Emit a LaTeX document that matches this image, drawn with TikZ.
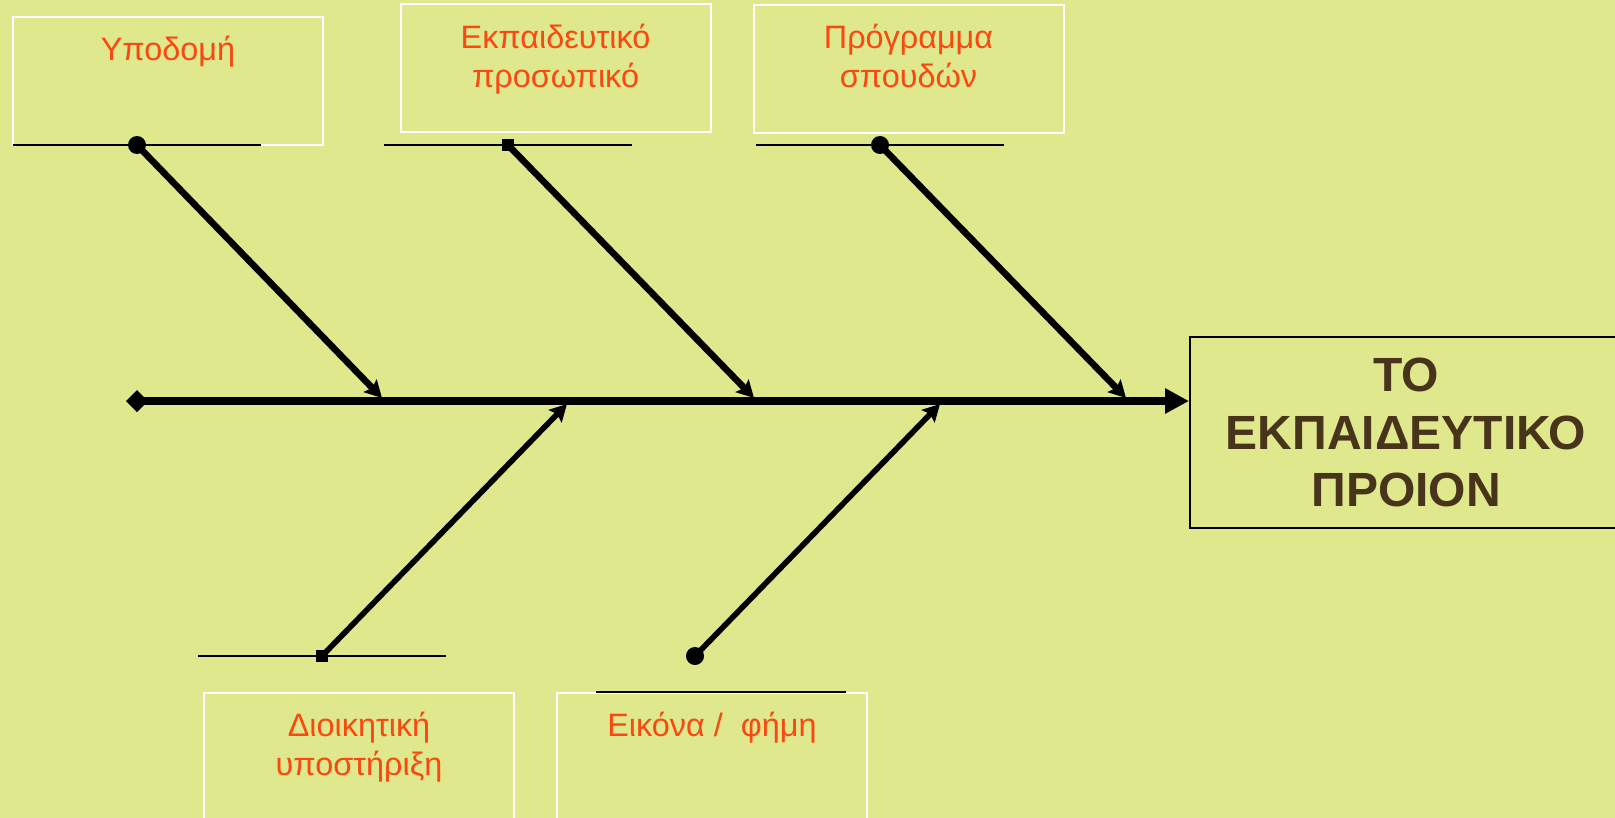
\documentclass[tikz,border=0pt]{standalone}
\usepackage{fontspec}
\setmainfont{Liberation Sans}
\usetikzlibrary{positioning,arrows.meta}
\definecolor{paper}{RGB}{223,232,140}
\definecolor{causetext}{RGB}{250,72,16}
\definecolor{effecttext}{RGB}{72,52,26}

\begin{document}
\begin{tikzpicture}[x=0.5pt,y=-0.5pt,
catbox/.style={draw=white,line width=1pt,rectangle,minimum width=155pt,minimum height=64pt,inner sep=0pt},
cattext/.style={text=causetext,font=\fontsize{16.2}{19.5}\selectfont,align=center,inner sep=0pt},
rib/.style={line width=1pt},
bone/.style={line width=3.3pt,-{Stealth[length=8.5pt,width=9pt,inset=1.5pt]}},
dot/.style={circle,fill,inner sep=0pt,minimum size=9pt},
sqdot/.style={rectangle,fill,inner sep=0pt,minimum size=6pt}]
\useasboundingbox (0,0) rectangle (1615,818);
\fill[paper] (0,0) rectangle (1615,818);

\node (infra) [catbox] at (168,81) {};
\node (staff) [catbox] at (555.5,68.5) {};
\node (curric) [catbox] at (908.5,69) {};
\node (admin) [catbox] at (359,757) {};
\node (image) [catbox] at (712,757) {};

\node (infralbl) [cattext,below=10pt of infra.north] {Υποδομή};
\node (stafflbl) [cattext,below=10pt of staff.north] {Εκπαιδευτικό\\προσωπικό};
\node (curriclbl) [cattext,below=10pt of curric.north] {Πρόγραμμα\\σπουδών};
\node (adminlbl) [cattext,below=10pt of admin.north] {Διοικητική\\υποστήριξη};
\node (imagelbl) [cattext,below=10pt of image.north] {Εικόνα /\ \ φήμη};

\node (result) [draw,line width=1pt,minimum width=216pt,minimum height=95.5pt,align=center,
    text=effecttext,font=\bfseries\fontsize{24}{28.75}\selectfont] at (1406,432.5)
    {ΤΟ\\ΕΚΠΑΙΔΕΥΤΙΚΟ\\ΠΡΟΙΟΝ};

\node (infradot) [dot] at (137,145) {};
\node (staffdot) [sqdot] at (508,145) {};
\node (curricdot) [dot] at (880,145) {};
\node (admindot) [sqdot] at (322,656) {};
\node (imagedot) [dot] at (695,656) {};

\foreach \n in {infradot,staffdot,curricdot,admindot}
  \draw[rib] ([xshift=-62pt]\n.center) -- ([xshift=62pt]\n.center);
\draw[rib] ([xshift=-58pt]image.north) -- ([xshift=67pt]image.north);

\coordinate (tail) at (126,401);
\draw[line width=4.2pt,{Diamond[length=11pt,width=11pt]}-{Triangle[length=12pt,width=12pt]}]
  (tail) -- (tail -| result.west);

\coordinate (j1) at (382,398);
\coordinate (j2) at (754,398);
\coordinate (j3) at (1126,398);
\coordinate (j4) at (567,404);
\coordinate (j5) at (940,404);

\draw[bone] (infradot.center) -- (j1);
\draw[bone] (staffdot.center) -- (j2);
\draw[bone] (curricdot.center) -- (j3);
\draw[bone,line width=2.8pt] (admindot.center) -- (j4);
\draw[bone,line width=2.8pt] (imagedot.center) -- (j5);
\end{tikzpicture}
\end{document}
